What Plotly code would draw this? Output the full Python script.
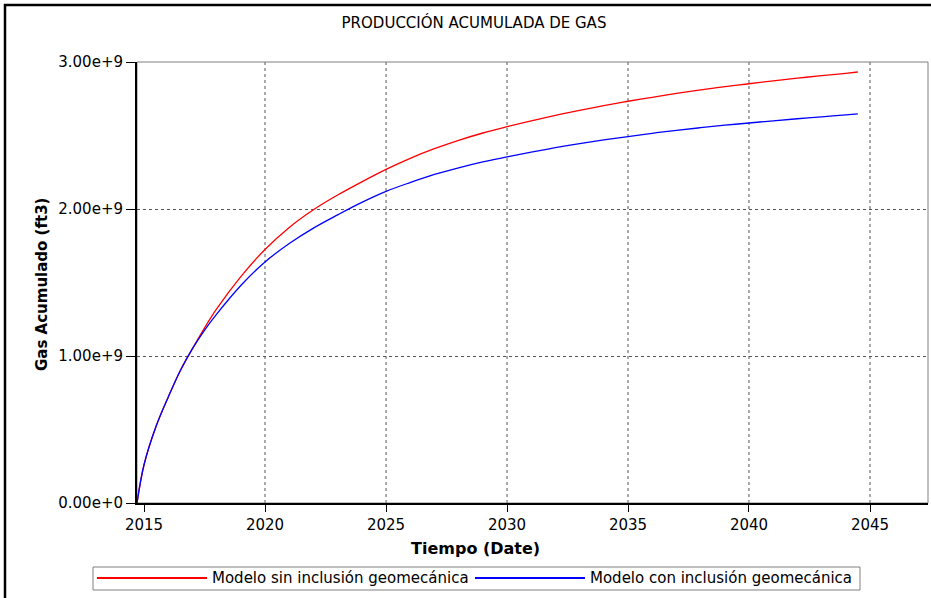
import plotly.graph_objects as go

# fechas de simulación y gas acumulado (1e9 ft3)
fechas = ['2014-09-17', '2015-01-01', '2015-07-01', '2016-01-01', '2016-07-01',
          '2017-01-01', '2017-07-01', '2018-01-01', '2019-01-01', '2020-01-01',
          '2021-01-01', '2022-01-01', '2023-01-01', '2024-01-01', '2025-01-01',
          '2026-01-01', '2027-01-01', '2028-01-01', '2029-01-01', '2030-01-01',
          '2031-01-01', '2032-01-01', '2033-01-01', '2034-01-01', '2035-01-01',
          '2036-01-01', '2037-01-01', '2038-01-01', '2039-01-01', '2040-01-01',
          '2041-01-01', '2042-01-01', '2043-01-01', '2044-01-01', '2044-07-01']

gas_sin_geo = [0.0, 0.26, 0.52, 0.72, 0.90,
               1.05, 1.19, 1.32, 1.54, 1.725,
               1.875, 1.995, 2.095, 2.185, 2.27,
               2.345, 2.41, 2.467, 2.517, 2.56,
               2.60, 2.637, 2.671, 2.703, 2.733,
               2.76, 2.786, 2.81, 2.833, 2.852,
               2.872, 2.89, 2.907, 2.923, 2.932]

gas_con_geo = [0.0, 0.26, 0.52, 0.72, 0.90,
               1.05, 1.175, 1.285, 1.48, 1.64,
               1.765, 1.87, 1.96, 2.045, 2.12,
               2.18, 2.235, 2.28, 2.32, 2.355,
               2.387, 2.417, 2.445, 2.47, 2.493,
               2.515, 2.535, 2.553, 2.57, 2.585,
               2.60, 2.614, 2.627, 2.64, 2.647]

series = ['Modelo sin inclusión geomecánica', 'Modelo con inclusión geomecánica']
colores = ['#ff0000', '#0000ff']

anios_grid = ['2020-01-01', '2025-01-01', '2030-01-01', '2035-01-01',
              '2040-01-01', '2045-01-01']

FONT = "DejaVu Sans, Verdana, sans-serif"

# área de trazado en píxeles
L, R, T, B = 137, 928, 62, 503


def px(x):
    return (x - L) / (R - L)


def py(y):
    return (B - y) / (B - T)


fig = go.Figure()
for nombre, datos, color in zip(series, [gas_sin_geo, gas_con_geo], colores):
    fig.add_trace(go.Scatter(
        x=fechas, y=[v * 1e9 for v in datos], mode='lines', name=nombre,
        line=dict(color=color, width=1.3, shape='spline'), showlegend=False))

fig.update_xaxes(
    type='date',
    range=['2014-09-17', '2047-05-26'],
    tick0='2015-01-01', dtick='M60', tickformat='%Y',
    ticks='outside', ticklen=7, tickcolor='#000', tickwidth=1,
    tickfont=dict(family=FONT, size=15, color='#000'),
    showline=True, linewidth=2, linecolor='#000',
    showgrid=False, zeroline=False,
)

fig.update_yaxes(
    range=[0, 3e9], tickvals=[0, 1e9, 2e9, 3e9], tickformat='.2e',
    ticks='outside', ticklen=9, tickcolor='#000', tickwidth=1,
    tickfont=dict(family=FONT, size=15, color='#000'),
    showline=True, linewidth=2, linecolor='#000',
    showgrid=True, gridcolor='#555', griddash='3px,3px', gridwidth=1,
    zeroline=False,
)

# rejilla vertical punteada (sin línea en 2015)
for a in anios_grid:
    fig.add_shape(type='line', xref='x', yref='paper', x0=a, x1=a, y0=0, y1=1,
                  line=dict(color='#555', width=1, dash='3px,3px'), layer='below')

# marco del área de trazado (arriba/derecha gris fino)
fig.add_shape(type='rect', xref='paper', yref='paper', x0=0, x1=1, y0=0, y1=1,
              line=dict(color='#808080', width=1), layer='between')

# marco exterior negro
fig.add_shape(type='rect', xref='paper', yref='paper',
              x0=px(5), x1=px(960), y0=py(640), y1=py(5),
              line=dict(color='#000', width=2.5), layer='above')

# títulos de ejes
fig.add_annotation(
    text='<b>Tiempo (Date)</b>', xref='paper', yref='paper',
    x=px(475), y=py(548), showarrow=False, xanchor='center', yanchor='middle',
    font=dict(family=FONT, size=16, color='#000'))
fig.add_annotation(
    text='<b>Gas Acumulado (ft3)</b>', xref='paper', yref='paper',
    x=px(42), y=py(285), showarrow=False, xanchor='center', yanchor='middle',
    textangle=-90, font=dict(family=FONT, size=15, color='#000'))

# leyenda dibujada como caja
fig.add_shape(type='rect', xref='paper', yref='paper',
              x0=px(93), x1=px(860), y0=py(590), y1=py(567),
              line=dict(color='#808080', width=1), fillcolor='#fff', layer='above')
for nombre, color, x0, x1 in zip(series, colores, [97, 475], [207, 585]):
    fig.add_shape(type='line', xref='paper', yref='paper',
                  x0=px(x0), x1=px(x1), y0=py(578), y1=py(578),
                  line=dict(color=color, width=2), layer='above')
    fig.add_annotation(
        text=nombre, xref='paper', yref='paper', x=px(x1 + 3), y=py(578),
        showarrow=False, xanchor='left', yanchor='middle',
        font=dict(family=FONT, size=15, color='#000'))

fig.update_layout(
    width=931, height=598,
    margin=dict(l=L, r=931 - R, t=T, b=598 - B),
    paper_bgcolor='#fff', plot_bgcolor='#fff',
    title=dict(text='PRODUCCIÓN ACUMULADA DE GAS', x=474 / 931, xanchor='center',
               y=1 - 23 / 598, yanchor='middle',
               font=dict(family=FONT, size=15, color='#000')),
    showlegend=False,
)

fig.write_html("out.html", config={'displayModeBar': False},
               post_script="document.body.style.margin='0';")
